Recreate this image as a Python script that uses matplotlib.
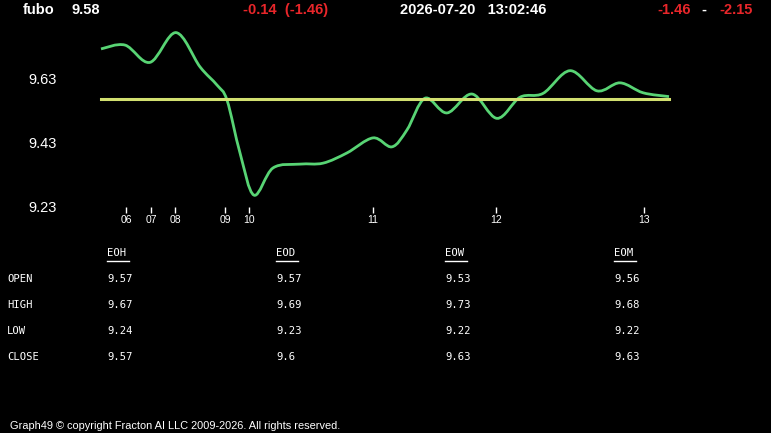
import numpy as np
import matplotlib
matplotlib.use('Agg')
import matplotlib.pyplot as plt
from matplotlib.path import Path
from matplotlib.patches import PathPatch

# price curve (x = session position, y = price)
pos = [0, 24, 49, 75, 99, 116, 126, 139, 153, 172, 199, 222, 246, 272, 291,
       306, 324, 346, 371, 396, 419, 442, 469, 496, 519, 542, 568]
price = [9.724, 9.736, 9.682, 9.775, 9.668, 9.611, 9.564, 9.399, 9.267, 9.352,
         9.364, 9.367, 9.399, 9.446, 9.418, 9.471, 9.570, 9.524, 9.583, 9.507,
         9.573, 9.585, 9.656, 9.593, 9.618, 9.587, 9.575]
open_price = 9.566

tick_pos = [25, 50, 74, 124, 148, 272, 395, 543]
tick_lbl = ['06', '07', '08', '09', '10', '11', '12', '13']
ytick_vals = [9.23, 9.43, 9.63]

cols = ['EOH', 'EOD', 'EOW', 'EOM']
rows = ['OPEN', 'HIGH', 'LOW', 'CLOSE']
table = [['9.57', '9.57', '9.53', '9.56'],
         ['9.67', '9.69', '9.73', '9.68'],
         ['9.24', '9.23', '9.22', '9.22'],
         ['9.57', '9.6', '9.63', '9.63']]

W, H = 771, 433
fig = plt.figure(figsize=(W / 100, H / 100), dpi=100, facecolor='black')
plt.rcParams['font.family'] = ['Liberation Sans', 'DejaVu Sans']

# chart area
left, right, top, bottom = 90, 680, 25, 207
ax = fig.add_axes([left / W, 1 - bottom / H, (right - left) / W, (bottom - top) / H])
ax.set_facecolor('black')
ax.set_xlim(-11, 579)
ax.set_ylim(9.23, 9.23 + (bottom - top) / 320)
for s in ax.spines.values():
    s.set_visible(False)

# smooth line through the points (Catmull-Rom as bezier segments)
x = np.array(pos, float)
y = np.array(price, float)
px = np.concatenate([[x[0]], x, [x[-1]]])
py = np.concatenate([[y[0]], y, [y[-1]]])
verts = [(x[0], y[0])]
codes = [Path.MOVETO]
for i in range(1, len(px) - 2):
    c1 = (px[i] + (px[i + 1] - px[i - 1]) / 6, py[i] + (py[i + 1] - py[i - 1]) / 6)
    c2 = (px[i + 1] - (px[i + 2] - px[i]) / 6, py[i + 1] - (py[i + 2] - py[i]) / 6)
    verts += [c1, c2, (px[i + 1], py[i + 1])]
    codes += [Path.CURVE4] * 3

ax.axhline(open_price, xmin=(0 + 11) / 590, xmax=(568 + 11) / 590, color='#d2e070', lw=2.2)
ax.add_patch(PathPatch(Path(verts, codes), fill=False, edgecolor='#58d474', lw=2.0))

ax.set_xticks(tick_pos)
ax.set_xticklabels(tick_lbl)
ax.tick_params(axis='x', colors='white', length=4, width=1, labelsize=7.5, pad=2)
ax.set_yticks(ytick_vals)
ax.set_yticklabels([f'{v:.2f}' for v in ytick_vals])
ax.tick_params(axis='y', colors='white', length=0, labelsize=10.5, pad=24)

# header
def ftext(px_, py_, s, **kw):
    fig.text(px_ / W, 1 - py_ / H, s, va='center', **kw)

ftext(23, 10, 'fubo', color='white', fontsize=10.5, fontweight='bold')
ftext(71, 10, '9.58', color='white', fontsize=10.5, fontweight='bold')
ftext(243, 10, '-0.14  (-1.46)', color='#e8262a', fontsize=10.5, fontweight='bold')
ftext(400, 10, '2026-07-20   13:02:46', color='white', fontsize=10.5, fontweight='bold')
ftext(657, 10, '-1.46', color='#e8262a', fontsize=10.5, fontweight='bold')
ftext(701, 10, '-', color='white', fontsize=10.5, fontweight='bold')
ftext(719, 10, '-2.15', color='#e8262a', fontsize=10.5, fontweight='bold')

# OHLC table
mono = ['DejaVu Sans Mono']
col_x = [107, 276, 445, 614]
row_y = [279, 305, 331, 357]
for cx, name in zip(col_x, cols):
    ftext(cx, 253, name, color='white', fontsize=7.6, family=mono)
    fig.add_artist(plt.Line2D([cx / W, (cx + 22) / W], [1 - 261 / H, 1 - 261 / H],
                              color='white', lw=1))
for ry, rname, vals in zip(row_y, rows, table):
    ftext(7, ry, rname, color='white', fontsize=7.6, family=mono)
    for cx, v in zip(col_x, vals):
        ftext(cx, ry, v, color='white', fontsize=7.6, family=mono)

ftext(10, 426, 'Graph49 \u00a9 copyright Fracton AI LLC 2009-2026. All rights reserved.',
      color='white', fontsize=7.9)

fig.savefig('out.png', dpi=100, facecolor='black')
